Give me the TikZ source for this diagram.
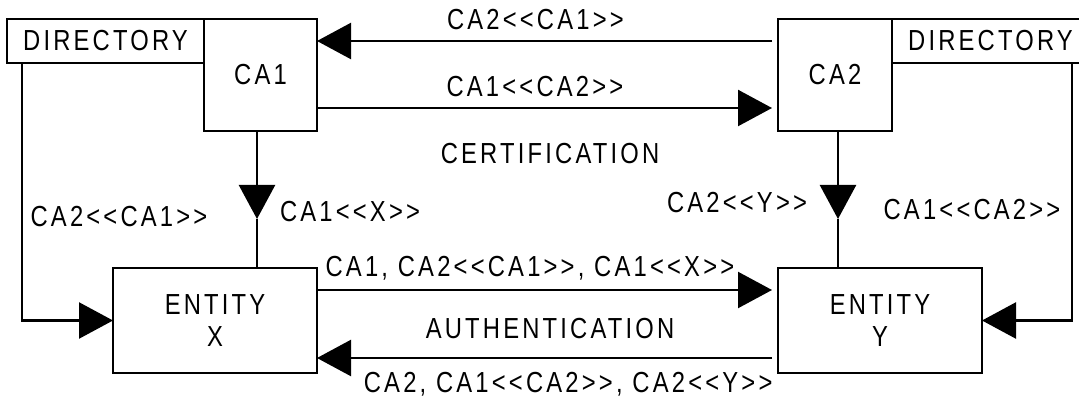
\documentclass[tikz,border=0pt]{standalone}
\usepackage{fontspec}
\setmainfont{Liberation Sans}[Ligatures=TeXOff,FakeStretch=0.82,LetterSpace=11]
\usepackage{tikz}
\usetikzlibrary{arrows.meta,positioning}

\begin{document}
\begin{tikzpicture}[x=1pt, y=-1pt, node distance = 0pt, font=\fontsize{29}{32}\selectfont, line width=2.4pt,
  box/.style args = {#1,#2}{draw, minimum width=#1, minimum height=#2, inner sep=0pt, outer sep=0pt, align=center},
  lbl/.style={inner sep=0pt, text height=21pt, text depth=0pt},
  arr/.style={-{Triangle[length=34pt,width=36pt]}}]
\useasboundingbox (0,0) rectangle (1079,398);

\node (caA) [box={113pt,112pt}] at (260.5,75) {CA1};
\node (dirA) [box={197pt,44pt}, left=of caA.north west, anchor=north east] {DIRECTORY};
\node (caB) [box={114pt,112pt}] at (835,75) {CA2};
\node (dirB) [box={197pt,44pt}, right=of caB.north east, anchor=north west] {DIRECTORY};

\node (entX) [box={204pt,105pt}] at (215,320.5) {ENTITY\\X};
\node (entY) [box={204pt,105pt}] at (880,320.5) {ENTITY\\Y};

% certification between the two CAs
\draw[arr] ([xshift=-6pt,yshift=-22pt]caB.north west) -- node (lblBA) [lbl, above=10pt, pos=0.52] {CA2<<CA1>>} ([yshift=-22pt]caA.north east);
\draw[arr] ([yshift=-89pt]caA.north east) -- node (lblAB) [lbl, above=10pt, pos=0.479] {CA1<<CA2>>} ([xshift=-6pt,yshift=-89pt]caB.north west);
\node (lblCert) [lbl] at (550,153) {CERTIFICATION};

% CA down to entity
\coordinate (tipA) at (257,219);
\coordinate (tipB) at (838,219);
\draw[arr] (caA.south -| tipA) -- (tipA);
\draw (tipA) -- (entX.north -| tipA);
\draw[arr] (caB.south -| tipB) -- (tipB);
\draw (tipB) -- (entY.north -| tipB);
\node (lblAX) [lbl] at (350,211) {CA1<<X>>};
\node (lblBY) [lbl] at (737,202) {CA2<<Y>>};

% directory to entity
\draw[arr] ([xshift=15pt]dirA.south west) |- (entX.west);
\draw[arr] ([xshift=-17pt]dirB.south east) |- (entY.east);
\node (lblDirA) [lbl] at (119,216) {CA2<<CA1>>};
\node (lblDirB) [lbl] at (972,209) {CA1<<CA2>>};

% authentication between the entities
\draw[arr] ([yshift=30.5pt]entX.east) -- node (lblXY) [lbl, above=12pt, pos=0.468] {CA1, CA2<<CA1>>, CA1<<X>>} ([xshift=-6pt,yshift=30.5pt]entY.west);
\draw[arr] ([xshift=-6pt,yshift=-37.5pt]entY.west) -- node (lblYX) [lbl, below=12pt, pos=0.448] {CA2, CA1<<CA2>>, CA2<<Y>>} ([yshift=-37.5pt]entX.east);
\node (lblAuth) [lbl] at (550,328) {AUTHENTICATION};
\end{tikzpicture}
\end{document}
